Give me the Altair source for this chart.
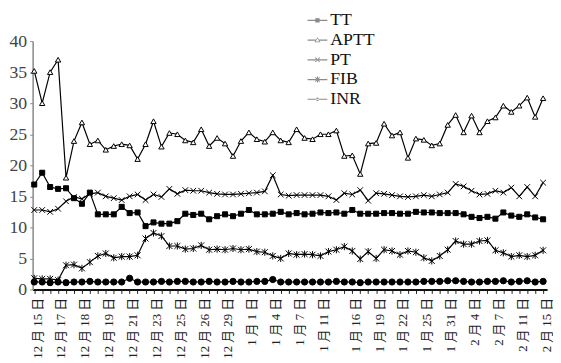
import altair as alt
import pandas as pd

series_names = ["TT", "APTT", "PT", "FIB", "INR"]

TT = [16.9, 18.8, 16.5, 16.2, 16.3, 14.7, 13.8, 15.6, 12.1, 12.1, 12.1, 13.3, 12.3, 12.4, 10.2, 10.8, 10.6,
      10.6, 11.0, 12.2, 12.0, 12.2, 11.3, 11.8, 12.1, 11.8, 12.2, 12.8, 12.1, 12.1, 12.2, 12.5, 12.1,
      12.3, 12.1, 12.2, 12.4, 12.3, 12.4, 12.2, 12.8, 12.2, 12.2, 12.2, 12.3, 12.3, 12.2, 12.2, 12.5,
      12.4, 12.4, 12.3, 12.3, 12.3, 12.1, 11.7, 11.5, 11.7, 11.4, 12.4, 11.9, 11.7, 12.1, 11.6, 11.3]
APTT = [35.2, 30.0, 35.0, 37.0, 18.0, 23.9, 26.9, 23.4, 24.0, 22.5, 23.1, 23.4, 23.2, 21.0, 23.4, 27.1, 23.0,
        25.2, 25.0, 24.0, 23.7, 25.8, 23.1, 24.4, 23.5, 21.5, 23.9, 25.3, 24.2, 23.8, 25.3, 24.0, 23.7,
        25.8, 24.4, 24.2, 25.0, 25.0, 25.6, 21.5, 21.6, 18.6, 23.5, 23.6, 26.7, 24.8, 25.3, 21.2, 24.3,
        24.1, 23.2, 23.5, 26.5, 28.1, 25.3, 28.0, 25.3, 27.1, 27.7, 29.6, 28.6, 29.6, 30.9, 27.8, 30.8]
PT = [12.8, 12.8, 12.5, 13.0, 14.2, 14.9, 14.6, 15.4, 15.6, 15.0, 14.7, 14.4, 15.0, 15.3, 14.4, 15.3, 14.9,
      16.2, 15.4, 16.0, 15.9, 15.9, 15.6, 15.4, 15.3, 15.3, 15.4, 15.5, 15.6, 15.8, 18.4, 15.3, 15.1,
      15.2, 15.2, 15.2, 15.2, 15.0, 14.4, 15.5, 15.3, 16.0, 14.3, 15.5, 15.4, 15.2, 15.0, 14.9, 15.0,
      15.2, 15.0, 15.3, 15.6, 17.0, 16.6, 15.9, 15.3, 15.4, 15.9, 15.6, 16.4, 15.0, 16.5, 15.0, 17.2]
FIB = [1.8, 1.7, 1.7, 1.5, 3.9, 4.0, 3.4, 4.4, 5.4, 5.8, 5.1, 5.3, 5.3, 5.5, 8.2, 9.1, 8.6,
       7.0, 7.0, 6.5, 6.6, 7.1, 6.4, 6.5, 6.4, 6.6, 6.4, 6.5, 6.1, 6.0, 5.4, 5.0, 5.8,
       5.6, 5.7, 5.6, 5.4, 6.1, 6.4, 6.9, 6.2, 4.9, 6.1, 5.0, 6.4, 6.2, 5.6, 6.2, 6.0,
       5.1, 4.6, 5.4, 6.4, 7.8, 7.3, 7.3, 7.8, 7.9, 6.3, 5.9, 5.3, 5.5, 5.3, 5.5, 6.3]
INR = [1.2, 1.2, 1.1, 1.2, 1.1, 1.2, 1.2, 1.3, 1.2, 1.2, 1.2, 1.2, 1.8, 1.2, 1.2, 1.2, 1.3,
       1.2, 1.3, 1.3, 1.2, 1.2, 1.3, 1.2, 1.2, 1.3, 1.2, 1.2, 1.3, 1.3, 1.6, 1.2, 1.2,
       1.2, 1.2, 1.2, 1.2, 1.2, 1.3, 1.2, 1.2, 1.1, 1.2, 1.2, 1.2, 1.2, 1.2, 1.2, 1.2,
       1.3, 1.3, 1.3, 1.4, 1.4, 1.3, 1.2, 1.2, 1.3, 1.3, 1.4, 1.2, 1.3, 1.4, 1.2, 1.3]

label_idx = [0, 3, 6, 9, 12, 15, 18, 21, 24, 27, 30, 33, 36, 40, 43, 46, 49, 52, 55, 58, 61, 64]
label_text = ["12 月 15 日", "12 月 17 日", "12 月 18 日", "12 月 19 日", "12 月 21 日", "12 月 23 日",
              "12 月 25 日", "12 月 26 日", "12 月 29 日", "1 月 1 日", "1 月 4 日", "1 月 7 日",
              "1 月 11 日", "1 月 16 日", "1 月 19 日", "1 月 22 日", "1 月 25 日", "1 月 31 日",
              "2 月 4 日", "2 月 7 日", "2 月 11 日", "2 月 15 日"]

n = len(TT)
rows = []
for name, vals in zip(series_names, [TT, APTT, PT, FIB, INR]):
    for i, v in enumerate(vals):
        rows.append({"i": i, "v": v, "series": name})
df = pd.DataFrame(rows)

lab = [""] * n
for k, t in zip(label_idx, label_text):
    lab[k] = t
label_expr = "[" + ",".join("'" + s + "'" for s in lab) + "][round(datum.value)] || ''"

point_shapes = ["square", "triangle-up", "M-1,-1L1,1M-1,1L1,-1",
                "M-1,-1L1,1M-1,1L1,-1M0,-1.2V1.2", "circle"]
point_fills = ["black", "white", "transparent", "transparent", "black"]
point_sizes = [26, 40, 30, 30, 14]

# legend glyphs drawn as filled outlines (line segment + marker), unit box [-1, 1]
LINE = "M-1,-0.06H1V0.06H-1Z"
XARMS = ("M-0.185,-0.255L0.255,0.185L0.185,0.255L-0.255,-0.185Z"
         "M-0.185,0.255L0.255,-0.185L0.185,-0.255L-0.255,0.185Z")
legend_shapes = [
    LINE + "M-0.22,-0.22H0.22V0.22H-0.22Z",
    "M-1,-0.06H-0.17V0.06H-1ZM0.17,-0.06H1V0.06H0.17Z"
    "M0,-0.3L0.3,0.22L-0.3,0.22ZM0,-0.17L-0.19,0.15L0.19,0.15Z",
    LINE + XARMS,
    LINE + XARMS + "M-0.05,-0.3H0.05V0.3H-0.05Z",
    LINE + "M-0.17,0A0.17,0.17 0 1,0 0.17,0A0.17,0.17 0 1,0 -0.17,0Z",
]

serif = "Liberation Serif"
cjk = "Liberation Serif, Noto Sans CJK SC"

x = alt.X("i:Q", scale=alt.Scale(domain=[-0.2, 64.5], nice=False, zero=False),
          axis=alt.Axis(values=list(range(n)), labelExpr=label_expr, labelAngle=270,
                        labelFont=cjk, labelFontSize=13, labelColor="#222", labelBaseline="middle",
                        labelOffset=3, labelPadding=4, tickSize=4, tickColor="#222",
                        domainColor="#111", domainWidth=2, grid=False, title=None,
                        labelOverlap=False))
y = alt.Y("v:Q", scale=alt.Scale(domain=[0, 40], nice=False),
          axis=alt.Axis(values=[0, 5, 10, 15, 20, 25, 30, 35, 40], labelFont=serif, labelFontSize=18,
                        labelColor="#444", domainColor="#888", domainWidth=1.5, tickColor="#888",
                        tickSize=3, grid=False, title=None, labelPadding=3))

lines = alt.Chart(df).mark_line(color="black", strokeWidth=1.2).encode(
    x=x, y=y, detail="series:N")

points = alt.Chart(df).mark_point(filled=True, stroke="black", strokeWidth=1, opacity=1).encode(
    x=x, y=y,
    shape=alt.Shape("series:N", scale=alt.Scale(domain=series_names, range=point_shapes), legend=None),
    fill=alt.Fill("series:N", scale=alt.Scale(domain=series_names, range=point_fills), legend=None),
    size=alt.Size("series:N", scale=alt.Scale(domain=series_names, range=point_sizes), legend=None),
)

legend_layer = alt.Chart(df).transform_filter("false").mark_point(
    filled=True, strokeWidth=0).encode(
    x=x, y=y,
    shape=alt.Shape("series:N", scale=alt.Scale(domain=series_names, range=legend_shapes),
                    legend=alt.Legend(title=None, orient="none", legendX=279, legendY=-31,
                                      symbolSize=400, symbolStrokeWidth=0,
                                      labelFont=serif, labelFontSize=18, labelColor="#111",
                                      rowPadding=1, labelOffset=3)),
    fill=alt.Fill("series:N", scale=alt.Scale(domain=series_names, range=["#111"] * 5)),
)

chart = alt.layer(lines, points, legend_layer).resolve_scale(
    shape="independent", fill="independent"
).properties(
    width=522, height=252,
    padding={"left": 25, "top": 31, "right": 6, "bottom": 70},
    autosize=alt.AutoSizeParams(type="none"),
).configure_view(stroke=None)

chart.save("out.html", embed_options={"renderer": "svg", "actions": False})
